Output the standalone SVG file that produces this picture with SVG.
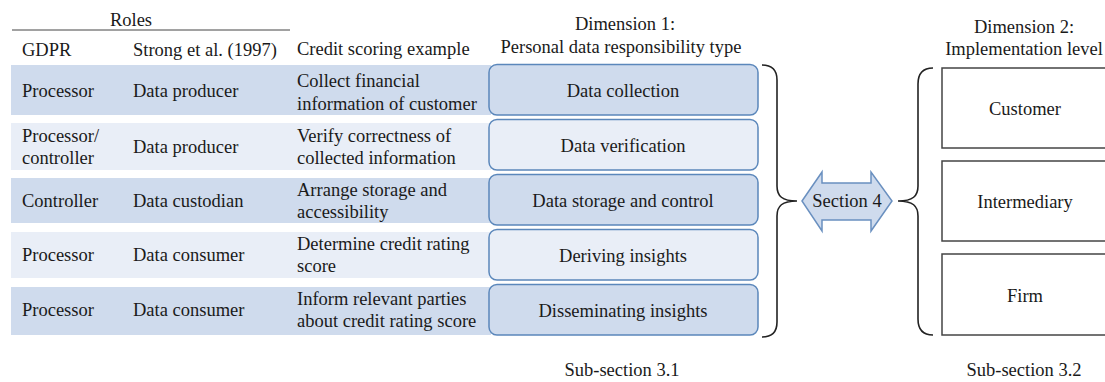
<svg xmlns="http://www.w3.org/2000/svg" width="1105" height="382" viewBox="0 0 1105 382">
<style>
text{font-family:"Liberation Serif","Times New Roman",serif;font-size:18.5px;fill:#1a1a1a}
.c{text-anchor:middle}
.dk{fill:#cfdbed}
.lt{fill:#e9eef7}
.box{stroke:#5b87bb;stroke-width:1.5}
.brace{fill:none;stroke:#222;stroke-width:1.6}
.lvl{fill:#fff;stroke:#444;stroke-width:1.5}
</style>
<g id="header">
<text class="c" x="131" y="26">Roles</text>
<line x1="12" y1="30" x2="290" y2="30" stroke="#444" stroke-width="1"/>
<text x="22" y="56">GDPR</text>
<text x="133" y="56">Strong et al. (1997)</text>
<text x="297" y="55">Credit scoring example</text>
<text class="c" x="625" y="30">Dimension 1:</text>
<text class="c" x="621" y="53">Personal data responsibility type</text>
<text class="c" x="1024" y="33">Dimension 2:</text>
<text class="c" x="1024" y="55">Implementation level</text>
</g>
<g id="row1">
<rect class="dk" x="11" y="65" width="480" height="50"/>
<text x="22" y="97">Processor</text>
<text x="133" y="97">Data producer</text>
<text x="297" y="87">Collect financial</text>
<text x="297" y="110">information of customer</text>
</g>
<g id="row2">
<rect class="lt" x="11" y="123" width="480" height="47"/>
<text x="22" y="142">Processor/</text>
<text x="22" y="164">controller</text>
<text x="133" y="153">Data producer</text>
<text x="297" y="142">Verify correctness of</text>
<text x="297" y="164">collected information</text>
</g>
<g id="row3">
<rect class="dk" x="11" y="178" width="480" height="45"/>
<text x="22" y="207">Controller</text>
<text x="133" y="207">Data custodian</text>
<text x="297" y="196">Arrange storage and</text>
<text x="297" y="218">accessibility</text>
</g>
<g id="row4">
<rect class="lt" x="11" y="232" width="480" height="46"/>
<text x="22" y="261">Processor</text>
<text x="133" y="261">Data consumer</text>
<text x="297" y="250">Determine credit rating</text>
<text x="297" y="272">score</text>
</g>
<g id="row5">
<rect class="dk" x="11" y="287" width="480" height="48"/>
<text x="22" y="316">Processor</text>
<text x="133" y="316">Data consumer</text>
<text x="297" y="305">Inform relevant parties</text>
<text x="297" y="327">about credit rating score</text>
</g>
<g id="dc">
<rect class="dk box" x="489" y="64.5" width="269" height="50.5" rx="8"/>
<text class="c" x="623" y="97">Data collection</text>
</g>
<g id="dv">
<rect class="lt box" x="489" y="119.5" width="269" height="50.5" rx="8"/>
<text class="c" x="623" y="152">Data verification</text>
</g>
<g id="ds">
<rect class="dk box" x="489" y="174.5" width="269" height="50.5" rx="8"/>
<text class="c" x="623" y="207">Data storage and control</text>
</g>
<g id="di">
<rect class="lt box" x="489" y="229.5" width="269" height="50.5" rx="8"/>
<text class="c" x="623" y="262">Deriving insights</text>
</g>
<g id="dd">
<rect class="dk box" x="489" y="284.5" width="269" height="50.5" rx="8"/>
<text class="c" x="623" y="317">Disseminating insights</text>
</g>
<g id="customer">
<rect class="lvl" x="942" y="68" width="175" height="80"/>
<text class="c" x="1025" y="115">Customer</text>
</g>
<g id="intermediary">
<rect class="lvl" x="942" y="161" width="175" height="80"/>
<text class="c" x="1025" y="208">Intermediary</text>
</g>
<g id="firm">
<rect class="lvl" x="942" y="254" width="175" height="81"/>
<text class="c" x="1025" y="302">Firm</text>
</g>
<g id="section4">
<path d="M802,201 L822,172 L822,183 L871,183 L871,172 L892,201 L871,231 L871,220 L822,220 L822,231 Z" fill="#cfdbed" stroke="#6a90c0" stroke-width="1.5"/>
<text class="c" x="847" y="207">Section 4</text>
</g>
<g id="connectors">
<path class="brace" d="M762,65 C772,65 777,70 777,80 L777,186 C777,196 782,201 797,201 C782,201 777,206 777,216 L777,322 C777,332 772,337 762,337"/>
<path class="brace" d="M933,68 C923,68 918,74 918,84 L918,186 C918,196 913,201 898,201 C913,201 918,206 918,216 L918,319 C918,329 923,335 933,335"/>
</g>
<g id="footer">
<text class="c" x="622" y="376">Sub-section 3.1</text>
<text class="c" x="1024" y="376">Sub-section 3.2</text>
</g>
</svg>
